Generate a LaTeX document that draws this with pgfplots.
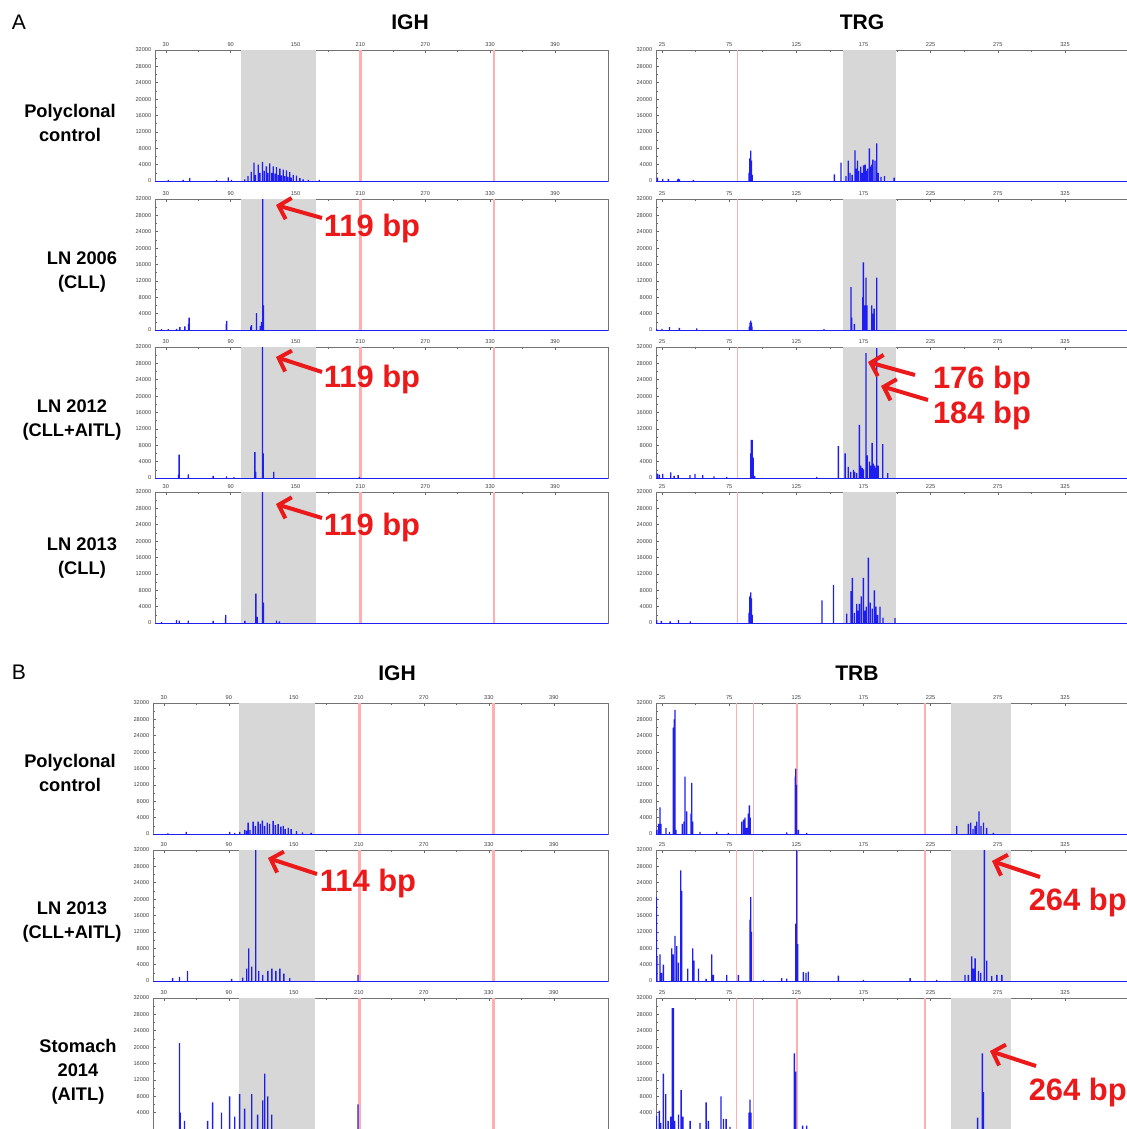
\documentclass[border=0pt]{standalone}
\usepackage{pgfplots}
\pgfplotsset{compat=1.18}
\usepackage{fontspec}
\setmainfont{Liberation Sans}
\usetikzlibrary{arrows.meta}

\definecolor{tracecol}{RGB}{30,30,240}
\definecolor{pinkline}{RGB}{255,175,175}
\definecolor{bandcol}{RGB}{215,215,215}
\definecolor{annot}{RGB}{235,25,25}

\pgfplotsset{
  panel/.style={
    scale only axis, height=32.75mm, anchor=south west,
    ymin=0, ymax=32000, ytick={0,4000,...,32000}, minor y tick num=1,
    scaled y ticks=false,
    /pgf/number format/assume math mode=true,
    /pgf/number format/1000 sep={},
    ticklabel style={font=\fontsize{4}{4}\selectfont, text=black!75},
    xtick pos=upper, xticklabel pos=upper, ytick pos=left,
    xticklabel style={yshift=-0.3mm}, yticklabel style={xshift=0.3mm},
    major tick length=0.8mm, minor tick length=0.5mm,
    every tick/.style={black!60},
    axis line style={black!55, line width=0.35pt},
  },
  igh/.style={panel, xmin=20, xmax=439, xtick={30,90,...,390}, minor x tick num=1},
  tr/.style={panel, width=117.75mm, xmin=20.5, xmax=371.2, xtick={25,75,...,325}, minor x tick num=1},
  lastrow/.style={ytick={4000,8000,...,32000}},
  peaks/.style={ybar, bar width=0.95pt, fill=tracecol, draw=none},
  base/.style={tracecol, line width=0.35pt},
  band/.style={draw=none, fill=bandcol},
  pink/.style={pinkline, line width=#1},
}

\begin{document}
\begin{tikzpicture}
\useasboundingbox (0,0) rectangle (281.75mm,-282.25mm);

% ---------- A: IGH ----------
\begin{axis}[igh, width=113.25mm, at={(38.75mm,-45.25mm)}]
  \addplot[band] coordinates {(100,32000)(169,32000)} \closedcycle;
  \addplot[pink=2pt] coordinates {(210,0)(210,32000)};
  \addplot[pink=2pt] coordinates {(333.5,0)(333.5,32000)};
  \addplot[base] coordinates {(20,0)(439,0)};
  \addplot[peaks] coordinates {(32.2,300)(46,300)(52.2,700)(76.9,200)(87.7,900)(90.8,300)(103,400)(106,1200)(109,2200)(111.5,4500)(113,1500)(115.5,4000)(117,2000)(119.5,4700)(121,2500)(123,3600)(124.5,2000)(126.2,4300)(128,2000)(129.3,3600)(131,1800)(132.4,3400)(134,1500)(135.5,3000)(137,1400)(138.6,2800)(140,1200)(141.6,2600)(143,1000)(144.7,2200)(146,800)(147.8,1500)(150.9,1300)(154,700)(157,400)(161.7,300)(171.9,300)};
\end{axis}

\begin{axis}[igh, width=113.25mm, at={(38.75mm,-82.5mm)}]
  \addplot[band] coordinates {(100,32000)(169,32000)} \closedcycle;
  \addplot[pink=2pt] coordinates {(210,0)(210,32000)};
  \addplot[pink=2pt] coordinates {(333.5,0)(333.5,32000)};
  \addplot[base] coordinates {(20,0)(439,0)};
  \addplot[peaks] coordinates {(26,200)(32.2,200)(40,300)(43,700)(47.6,900)(51,1500)(51.6,3000)(86,1500)(86.4,2200)(108.5,800)(109.3,1200)(113.9,4100)(117.5,1000)(118.5,2000)(119.7,34000)(120.3,6000)};
\end{axis}

\begin{axis}[igh, width=113.25mm, at={(38.75mm,-119.5mm)}]
  \addplot[band] coordinates {(100,32000)(169,32000)} \closedcycle;
  \addplot[pink=2pt] coordinates {(210,0)(210,32000)};
  \addplot[pink=2pt] coordinates {(333.5,0)(333.5,32000)};
  \addplot[base] coordinates {(20,0)(439,0)};
  \addplot[peaks] coordinates {(41.8,800)(42.3,5700)(50.7,900)(73.8,500)(86.1,400)(93,200)(112.4,6300)(113.2,1500)(119.4,34000)(120,6000)(129.9,1500)(208.9,300)};
\end{axis}

\begin{axis}[igh, width=113.25mm, at={(38.75mm,-155.75mm)}]
  \addplot[band] coordinates {(100,32000)(169,32000)} \closedcycle;
  \addplot[pink=2pt] coordinates {(210,0)(210,32000)};
  \addplot[pink=2pt] coordinates {(333.5,0)(333.5,32000)};
  \addplot[base] coordinates {(20,0)(439,0)};
  \addplot[peaks] coordinates {(26,200)(39.9,700)(42.5,600)(50.7,600)(73.8,500)(85.2,1200)(85.5,2000)(103.1,500)(113.3,7200)(114.5,1500)(119.5,34000)(120.3,5000)(132.4,600)(135,400)};
\end{axis}

% ---------- A: TRG ----------
\begin{axis}[tr, at={(164mm,-45.25mm)}]
  \addplot[band] coordinates {(160,32000)(199.2,32000)} \closedcycle;
  \addplot[pink=0.6pt] coordinates {(81,0)(81,32000)};
  \addplot[base] coordinates {(20.5,0)(371,0)};
  \addplot[peaks] coordinates {(21.5,800)(25.5,500)(29.7,500)(36.5,400)(37.2,600)(38,400)(48.3,300)(89.8,2000)(90.4,5500)(91,7400)(91.6,5000)(92.2,1500)(153.3,1600)(158.3,4500)(162,1200)(163.7,5000)(165,2000)(166.5,1500)(168.7,7500)(169.5,3000)(170.5,5000)(171.5,2500)(173,3500)(174,2000)(175,3800)(176.2,4000)(177,2500)(178,3000)(179.4,8000)(180,3500)(181.1,4000)(182,5200)(183.6,5000)(184.9,9200)(186,2000)(188,1000)(190.6,1200)(197.8,800)};
\end{axis}

\begin{axis}[tr, at={(164mm,-82.5mm)}]
  \addplot[band] coordinates {(160,32000)(199.2,32000)} \closedcycle;
  \addplot[pink=0.6pt] coordinates {(81,0)(81,32000)};
  \addplot[base] coordinates {(20.5,0)(371,0)};
  \addplot[peaks] coordinates {(21,300)(25,300)(30.5,700)(37.9,500)(50.8,400)(90,800)(90.5,1800)(91,2300)(91.5,1800)(92,800)(145.6,200)(165.7,10500)(166.3,3000)(168.2,1500)(174.5,8000)(174.9,16500)(175.8,6000)(176.9,12800)(177.5,6000)(181.1,6000)(182,4000)(182.9,5200)(184.9,12800)};
\end{axis}

\begin{axis}[tr, at={(164mm,-119.5mm)}]
  \addplot[band] coordinates {(160,32000)(199.2,32000)} \closedcycle;
  \addplot[pink=0.6pt] coordinates {(81,0)(81,32000)};
  \addplot[base] coordinates {(20.5,0)(371,0)};
  \addplot[peaks] coordinates {(21.5,1100)(23,800)(25.5,1000)(31.5,1400)(34,500)(37,700)(45.8,700)(49.5,1000)(55.3,700)(63.7,400)(73.2,300)(91,6000)(91.5,9300)(92.2,9300)(92.8,5000)(94,500)(140.2,300)(156.3,7800)(161.3,6000)(163.7,2700)(165.5,1500)(167.5,2000)(168.5,1500)(170,1200)(171.9,13000)(173,3000)(174,2500)(174.6,2200)(175,2000)(176.9,30500)(177.8,5500)(179.5,4000)(180,2800)(180.5,3000)(181.4,8600)(182.3,3500)(183.3,3000)(184,2500)(184.9,31700)(186,3000)(189.3,8300)(193,1200)};
\end{axis}

\begin{axis}[tr, at={(164mm,-155.75mm)}]
  \addplot[band] coordinates {(160,32000)(199.2,32000)} \closedcycle;
  \addplot[pink=0.6pt] coordinates {(81,0)(81,32000)};
  \addplot[base] coordinates {(20.5,0)(371,0)};
  \addplot[peaks] coordinates {(21,700)(24.5,500)(31,400)(37.2,700)(46,400)(89.8,2500)(90.4,6500)(91,7500)(91.6,6000)(92.2,2000)(144.1,5500)(152.6,9300)(162.5,2300)(165.7,7800)(166.7,11000)(168.3,2500)(170,4700)(171,3000)(171.9,4700)(173.3,6500)(174.9,11000)(176,3000)(177,4000)(178.6,16000)(180,5000)(181.5,3500)(183.1,8000)(184.2,4000)(185.5,2000)(187.3,4000)(189.5,1300)(198.5,1200)};
\end{axis}

% ---------- B: IGH ----------
\begin{axis}[igh, width=113.75mm, xmax=440, at={(38.25mm,-208.5mm)}]
  \addplot[band] coordinates {(99.4,32000)(169.5,32000)} \closedcycle;
  \addplot[pink=2pt] coordinates {(210.5,0)(210.5,32000)};
  \addplot[pink=2pt] coordinates {(334,0)(334,32000)};
  \addplot[base] coordinates {(20,0)(440,0)};
  \addplot[peaks] coordinates {(33.7,150)(50.7,500)(90.8,500)(95.5,300)(100.1,500)(104.7,1000)(106.3,800)(107.8,2800)(109.5,1000)(112.4,3000)(114.5,2000)(117,3000)(119,2500)(121,3300)(123,2000)(125.4,2800)(127.5,2500)(130.9,3200)(133,2200)(135.5,2400)(138,1800)(140.2,2000)(142,1200)(144.8,1500)(147.5,1200)(152.5,700)(158,400)(166,300)};
\end{axis}

\begin{axis}[igh, width=113.75mm, xmax=440, at={(38.25mm,-245.25mm)}]
  \addplot[band] coordinates {(99.4,32000)(169.5,32000)} \closedcycle;
  \addplot[pink=2pt] coordinates {(210.5,0)(210.5,32000)};
  \addplot[pink=2pt] coordinates {(334,0)(334,32000)};
  \addplot[base] coordinates {(20,0)(440,0)};
  \addplot[peaks] coordinates {(38.1,700)(44.5,1000)(51.9,2500)(92.6,500)(102.8,800)(106.5,3000)(108.4,8000)(111.2,3500)(114.9,34000)(117.6,2500)(121.3,1500)(126,2500)(129.7,3000)(133.4,2500)(137.1,3000)(140.8,1800)(146.3,700)(209.2,1500)};
\end{axis}

\begin{axis}[igh, lastrow, width=113.75mm, xmax=440, at={(38.25mm,-282.25mm)}]
  \addplot[band] coordinates {(99.4,32000)(169.5,32000)} \closedcycle;
  \addplot[pink=2pt] coordinates {(210.5,0)(210.5,32000)};
  \addplot[pink=2pt] coordinates {(334,0)(334,32000)};
  \addplot[base] coordinates {(20,0)(440,0)};
  \addplot[peaks] coordinates {(44.5,21000)(45.2,4000)(49.1,2000)(70.4,2000)(75,6500)(83.3,4000)(90.7,8000)(95.4,3000)(100,8500)(104.6,5000)(111.1,8500)(116.6,3500)(121.3,7000)(123.1,13500)(125.9,8000)(129.6,3500)(209.2,6000)};
\end{axis}

% ---------- B: TRB ----------
\begin{axis}[tr, at={(164mm,-208.5mm)}]
  \addplot[band] coordinates {(240.2,32000)(284.6,32000)} \closedcycle;
  \addplot[pink=1.1pt] coordinates {(80.6,0)(80.6,32000)};
  \addplot[pink=1.1pt] coordinates {(93,0)(93,32000)};
  \addplot[pink=1.1pt] coordinates {(125.3,0)(125.3,32000)};
  \addplot[pink=1.1pt] coordinates {(220.8,0)(220.8,32000)};
  \addplot[base] coordinates {(20.5,0)(371,0)};
  \addplot[peaks] coordinates {(21,1000)(22.3,2500)(23.5,6500)(24.2,2500)(28,1500)(30.5,500)(33.4,26000)(34.1,28000)(34.7,30300)(35.3,1000)(40.1,2500)(41.3,3000)(42.1,14000)(43.4,5500)(46.6,5000)(47.1,12500)(47.8,3000)(53.3,500)(65.7,500)(74.4,300)(84.3,3000)(85.6,3500)(86.8,4000)(88,1500)(89.3,5000)(90,7000)(90.6,4000)(117.8,400)(124.3,14000)(124.5,16000)(125,12000)(126.5,1000)(132.7,300)(244.4,2000)(253.1,2500)(254.8,2800)(256.5,1200)(258.1,2000)(259.3,3000)(261,5500)(262.5,2000)(264.3,2800)(266.7,1500)(271.7,300)};
\end{axis}

\begin{axis}[tr, at={(164mm,-245.25mm)}]
  \addplot[band] coordinates {(240.2,32000)(284.6,32000)} \closedcycle;
  \addplot[pink=1.1pt] coordinates {(80.6,0)(80.6,32000)};
  \addplot[pink=1.1pt] coordinates {(93,0)(93,32000)};
  \addplot[pink=1.1pt] coordinates {(125.3,0)(125.3,32000)};
  \addplot[pink=1.1pt] coordinates {(220.8,0)(220.8,32000)};
  \addplot[base] coordinates {(20.5,0)(371,0)};
  \addplot[peaks] coordinates {(20.8,20500)(21.3,6000)(23.5,6500)(24.5,2000)(26,4000)(32.2,8000)(33.4,6500)(34.7,11000)(35.9,8500)(37.2,4500)(38.9,27000)(39.6,22000)(44.1,3000)(47.8,8000)(48.8,5000)(52.1,3000)(57.8,500)(62,6500)(63.2,1500)(73.2,1500)(81.8,1500)(90.5,15000)(91,20500)(91.5,12000)(100.5,300)(114.1,700)(117.8,600)(124.5,14000)(125.3,34000)(126,9000)(130.2,2200)(132.2,2000)(133.9,2300)(156.3,1300)(175,300)(209.7,700)(229.5,300)(250.6,1500)(253.1,1500)(255.6,6000)(256.8,3000)(258.1,5500)(260.6,2500)(262.3,2000)(265,34000)(266.8,5000)(270.5,1200)(274.3,1500)(278,1500)};
\end{axis}

\begin{axis}[tr, lastrow, at={(164mm,-282.25mm)}]
  \addplot[band] coordinates {(240.2,32000)(284.6,32000)} \closedcycle;
  \addplot[pink=1.1pt] coordinates {(80.6,0)(80.6,32000)};
  \addplot[pink=1.1pt] coordinates {(93,0)(93,32000)};
  \addplot[pink=1.1pt] coordinates {(125.3,0)(125.3,32000)};
  \addplot[pink=1.1pt] coordinates {(220.8,0)(220.8,32000)};
  \addplot[base] coordinates {(20.5,0)(371,0)};
  \addplot[peaks] coordinates {(20.8,3300)(23,4500)(24,1500)(26,13500)(27.7,8500)(29.5,2000)(31.5,3000)(32.7,29500)(33.5,29500)(34.5,2000)(37.2,3500)(39.2,9500)(40.5,3000)(45.9,2000)(53.3,1500)(57.8,6500)(59.5,2000)(68.9,8000)(70.7,2500)(72.7,2500)(75.6,500)(89.8,4000)(90.5,7200)(91.2,4000)(123.5,18500)(124.5,14000)(129.7,800)(132.7,800)(260,2800)(263.5,18500)(264.3,9000)};
\end{axis}

% ---------- headings and row labels ----------
\node[font=\fontsize{15}{15}\selectfont] at (4.75mm,-5.5mm) {A};
\node[font=\fontsize{15}{15}\selectfont] at (4.75mm,-168mm) {B};
\begin{scope}[every node/.style={font=\bfseries\fontsize{15}{15}\selectfont}]
  \node at (102.5mm,-5.5mm) {IGH};
  \node at (215.5mm,-5.5mm) {TRG};
  \node at (99.25mm,-168.25mm) {IGH};
  \node at (214.25mm,-168.25mm) {TRB};
\end{scope}
\begin{scope}[every node/.style={font=\bfseries\fontsize{13}{17}\selectfont, align=center}]
  \node at (17.5mm,-30.75mm) {Polyclonal\\control};
  \node at (20.5mm,-68mm) {LN 2006\\(CLL)};
  \node at (18mm,-105mm) {LN 2012\\(CLL+AITL)};
  \node at (20.5mm,-139.5mm) {LN 2013\\(CLL)};
  \node at (17.5mm,-193.25mm) {Polyclonal\\control};
  \node at (18mm,-230.5mm) {LN 2013\\(CLL+AITL)};
  \node at (19.5mm,-268mm) {Stomach\\2014\\(AITL)};
\end{scope}

% ---------- annotations ----------
\begin{scope}[annot, line width=1mm, -{Straight Barb[length=2.6mm,width=5.5mm]}]
  \draw (80.5mm,-54.5mm) -- (69mm,-51.25mm);
  \draw (80.5mm,-93mm) -- (69mm,-89.25mm);
  \draw (80.5mm,-129.5mm) -- (69mm,-126mm);
  \draw (228.75mm,-93.75mm) -- (217mm,-90.5mm);
  \draw (232mm,-100mm) -- (220.25mm,-96.5mm);
  \draw (79.25mm,-218.5mm) -- (67mm,-214.5mm);
  \draw (260mm,-219.25mm) -- (248mm,-215.25mm);
  \draw (259mm,-266.5mm) -- (247.5mm,-262.75mm);
\end{scope}
\begin{scope}[every node/.style={text=annot, font=\bfseries\fontsize{22}{22}\selectfont, inner sep=0pt}]
  \node at (93mm,-57.25mm) {119 bp};
  \node at (93mm,-94.75mm) {119 bp};
  \node at (93mm,-131.75mm) {119 bp};
  \node at (245.5mm,-95mm) {176 bp};
  \node at (245.5mm,-103.75mm) {184 bp};
  \node at (92mm,-220.75mm) {114 bp};
  \node[anchor=east] at (281.75mm,-225.5mm) {264 bp};
  \node[anchor=east] at (281.75mm,-273mm) {264 bp};
\end{scope}
\end{tikzpicture}
\end{document}
